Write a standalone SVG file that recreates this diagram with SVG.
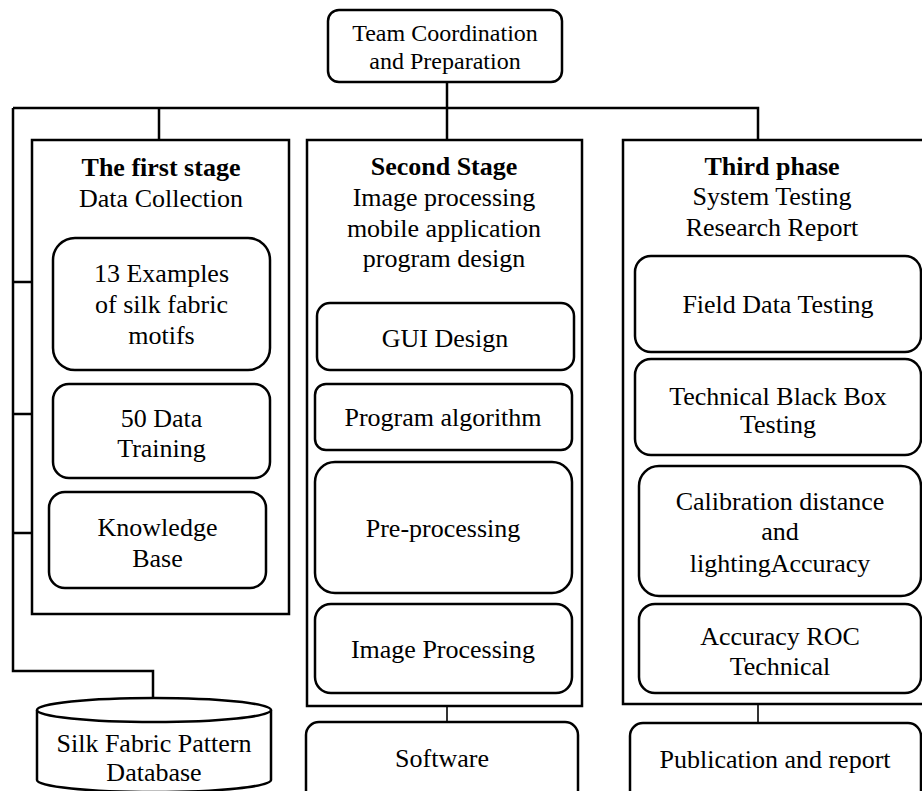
<svg xmlns="http://www.w3.org/2000/svg" width="922" height="791" viewBox="0 0 922 791">
<style>
  .box{fill:#fff;stroke:#000;stroke-width:2.5}
  .stage{fill:none;stroke:#000;stroke-width:2.5}
  .ln{fill:none;stroke:#000;stroke-width:2.5}
  .thin{fill:none;stroke:#000;stroke-width:1.6}
  text{font-family:"Liberation Serif","Times New Roman",serif;font-size:26px;fill:#000;text-anchor:middle}
  .b{font-weight:bold}
  .sm{font-size:24px}
</style>
<rect width="922" height="791" fill="#fff"/>
<g id="connectors">
  <path class="ln" d="M447,82 V140"/>
  <path class="ln" d="M13,108 H758 V140"/>
  <path class="ln" d="M159,108 V140"/>
  <path class="ln" d="M13,108 V671 H153 V698"/>
  <path class="ln" d="M13,282 H32 M13,414 H32 M13,533 H32"/>
  <path class="thin" d="M447,706 V722"/>
  <path class="thin" d="M758,704 V723"/>
</g>
<g id="team">
  <rect class="box" x="328" y="10" width="234" height="72" rx="11"/>
  <text class="sm" x="445" y="41">Team Coordination</text>
  <text class="sm" x="445" y="69">and Preparation</text>
</g>
<g id="stage1">
  <rect class="stage" x="32" y="140" width="257" height="474"/>
  <text class="b" x="161" y="176">The first stage</text>
  <text x="161" y="207">Data Collection</text>
</g>
<g id="examples">
  <rect class="box" x="53" y="238" width="217" height="132" rx="22"/>
  <text x="161.5" y="282">13 Examples</text>
  <text x="161.5" y="313">of silk fabric</text>
  <text x="161.5" y="344">motifs</text>
</g>
<g id="training">
  <rect class="box" x="53" y="384" width="217" height="94" rx="16"/>
  <text x="161.5" y="427">50 Data</text>
  <text x="161.5" y="457">Training</text>
</g>
<g id="knowledge">
  <rect class="box" x="49" y="492" width="217" height="96" rx="16"/>
  <text x="157.5" y="536">Knowledge</text>
  <text x="157.5" y="567">Base</text>
</g>
<g id="database">
  <path class="box" d="M37,710 L37,780 A117,12 0 0 0 271,780 L271,710"/>
  <ellipse class="box" cx="154" cy="710" rx="117" ry="12"/>
  <text x="154" y="752">Silk Fabric Pattern</text>
  <text x="154" y="781">Database</text>
</g>
<g id="stage2">
  <rect class="stage" x="307" y="140" width="275" height="566"/>
  <text class="b" x="444" y="175">Second Stage</text>
  <text x="444" y="206">Image processing</text>
  <text x="444" y="237">mobile application</text>
  <text x="444" y="267">program design</text>
</g>
<g id="gui">
  <rect class="box" x="317" y="303" width="257" height="67" rx="13"/>
  <text x="445" y="347">GUI Design</text>
</g>
<g id="algorithm">
  <rect class="box" x="315" y="384" width="257" height="66" rx="11"/>
  <text x="443" y="426">Program algorithm</text>
</g>
<g id="preprocessing">
  <rect class="box" x="315" y="462" width="257" height="131" rx="20"/>
  <text x="443" y="537">Pre-processing</text>
</g>
<g id="imageprocessing">
  <rect class="box" x="315" y="604" width="257" height="89" rx="16"/>
  <text x="443" y="658">Image Processing</text>
</g>
<g id="software">
  <rect class="box" x="306" y="722" width="272" height="90" rx="13"/>
  <text x="442" y="767">Software</text>
</g>
<g id="stage3">
  <rect class="stage" x="623" y="140" width="310" height="564"/>
  <text class="b" x="772" y="175">Third phase</text>
  <text x="772" y="205">System Testing</text>
  <text x="772" y="236">Research Report</text>
</g>
<g id="field">
  <rect class="box" x="635" y="256" width="286" height="96" rx="16"/>
  <text x="778" y="313">Field Data Testing</text>
</g>
<g id="blackbox">
  <rect class="box" x="635" y="359" width="286" height="96" rx="16"/>
  <text x="778" y="405">Technical Black Box</text>
  <text x="778" y="433">Testing</text>
</g>
<g id="calibration">
  <rect class="box" x="639" y="466" width="282" height="130" rx="20"/>
  <text x="780" y="510">Calibration distance</text>
  <text x="780" y="540">and</text>
  <text x="780" y="572">lightingAccuracy</text>
</g>
<g id="roc">
  <rect class="box" x="639" y="604" width="282" height="89" rx="16"/>
  <text x="780" y="645">Accuracy ROC</text>
  <text x="780" y="675">Technical</text>
</g>
<g id="publication">
  <rect class="box" x="630" y="723" width="291" height="90" rx="13"/>
  <text x="775" y="768">Publication and report</text>
</g>
</svg>
